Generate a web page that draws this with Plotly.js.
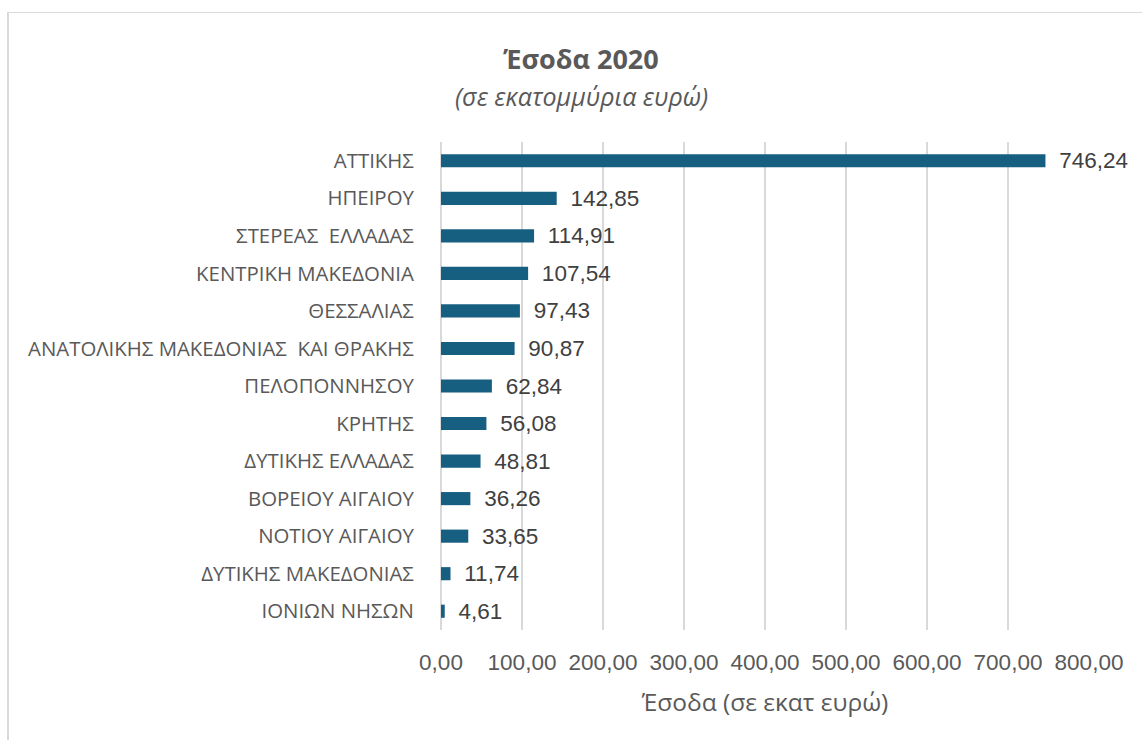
<!DOCTYPE html>
<html>
<head>
<meta charset="utf-8">
<script src="https://cdn.plot.ly/plotly-3.0.1.min.js"></script>
<style>
  html, body { margin: 0; padding: 0; background: #ffffff; }
  #wrap { position: relative; width: 1142px; height: 740px; overflow: hidden; }
  #chart { width: 1142px; height: 740px; }
  #frame { position: absolute; left: 7px; top: 12px; width: 2000px; height: 2000px;
           border-left: 2px solid #d9d9d9; border-top: 1.5px solid #d9d9d9; pointer-events: none; }
</style>
</head>
<body>
<div id="wrap">
  <div id="chart"></div>
  <div id="frame"></div>
</div>
<script>
const regions = [
  "ΑΤΤΙΚΗΣ",
  "ΗΠΕΙΡΟΥ",
  "ΣΤΕΡΕΑΣ\u00a0\u00a0ΕΛΛΑΔΑΣ",
  "ΚΕΝΤΡΙΚΗ\u00a0ΜΑΚΕΔΟΝΙΑ",
  "ΘΕΣΣΑΛΙΑΣ",
  "ΑΝΑΤΟΛΙΚΗΣ\u00a0ΜΑΚΕΔΟΝΙΑΣ\u00a0\u00a0ΚΑΙ\u00a0ΘΡΑΚΗΣ",
  "ΠΕΛΟΠΟΝΝΗΣΟΥ",
  "ΚΡΗΤΗΣ",
  "ΔΥΤΙΚΗΣ\u00a0ΕΛΛΑΔΑΣ",
  "ΒΟΡΕΙΟΥ\u00a0ΑΙΓΑΙΟΥ",
  "ΝΟΤΙΟΥ\u00a0ΑΙΓΑΙΟΥ",
  "ΔΥΤΙΚΗΣ\u00a0ΜΑΚΕΔΟΝΙΑΣ",
  "ΙΟΝΙΩΝ\u00a0ΝΗΣΩΝ"
];
const revenue2020 = [746.24, 142.85, 114.91, 107.54, 97.43, 90.87, 62.84, 56.08, 48.81, 36.26, 33.65, 11.74, 4.61];
const xTickValues = [0, 100, 200, 300, 400, 500, 600, 700, 800];

const titleText = "Έσοδα 2020";
const subtitleText = "(σε εκατομμύρια ευρώ)";
const xAxisTitle = "Έσοδα (σε εκατ ευρώ)";

const trace = {
  type: "bar",
  orientation: "h",
  x: revenue2020,
  y: regions,
  marker: { color: "#175f80" },
  text: revenue2020.map(v => "\u00a0\u2009" + v.toFixed(2).replace(".", ",")),
  textposition: "outside",
  constraintext: "none",
  textfont: { family: "Liberation Sans, Arial, sans-serif", size: 22.5, color: "#404040" },
  cliponaxis: false,
  hoverinfo: "none"
};

const layout = {
  width: 1142,
  height: 740,
  margin: { l: 441, r: 53, t: 142, b: 110, pad: 0 },
  paper_bgcolor: "#ffffff",
  plot_bgcolor: "#ffffff",
  separators: ",.",
  showlegend: false,
  bargap: 0.65,
  uniformtext: { mode: false },
  title: {
    text: "<b>" + titleText + "</b>",
    font: { family: "Open Sans, sans-serif", size: 27, color: "#595959" },
    xref: "container", yref: "container",
    x: 581 / 1142, y: 1 - 60 / 740,
    xanchor: "center", yanchor: "middle"
  },
  annotations: [{
    text: "<i>" + subtitleText + "</i>",
    xref: "paper", yref: "paper",
    x: (581 - 441) / 648, y: (630 - 96) / 488,
    xanchor: "center", yanchor: "middle",
    showarrow: false,
    font: { family: "Open Sans, sans-serif", size: 25, color: "#595959" }
  }],
  xaxis: {
    range: [0, 800],
    tickvals: xTickValues,
    tickformat: ".2f",
    showgrid: true,
    gridcolor: "#d9d9d9",
    gridwidth: 1.5,
    zeroline: true,
    zerolinecolor: "#d9d9d9",
    zerolinewidth: 1.5,
    showline: false,
    ticks: "outside",
    ticklen: 12,
    tickcolor: "rgba(0,0,0,0)",
    tickfont: { family: "Liberation Sans, Arial, sans-serif", size: 22.5, color: "#595959" },
    title: {
      text: xAxisTitle,
      font: { family: "Open Sans, sans-serif", size: 24.5, color: "#595959" },
      standoff: 19
    },
    fixedrange: true
  },
  yaxis: {
    autorange: "reversed",
    type: "category",
    showgrid: false,
    zeroline: false,
    showline: false,
    ticks: "outside",
    ticklen: 22,
    tickcolor: "rgba(0,0,0,0)",
    tickfont: { family: "Open Sans, sans-serif", size: 20.4, color: "#595959" },
    fixedrange: true
  }
};

Plotly.newPlot("chart", [trace], layout, { displayModeBar: false, staticPlot: true });
</script>
</body>
</html>
